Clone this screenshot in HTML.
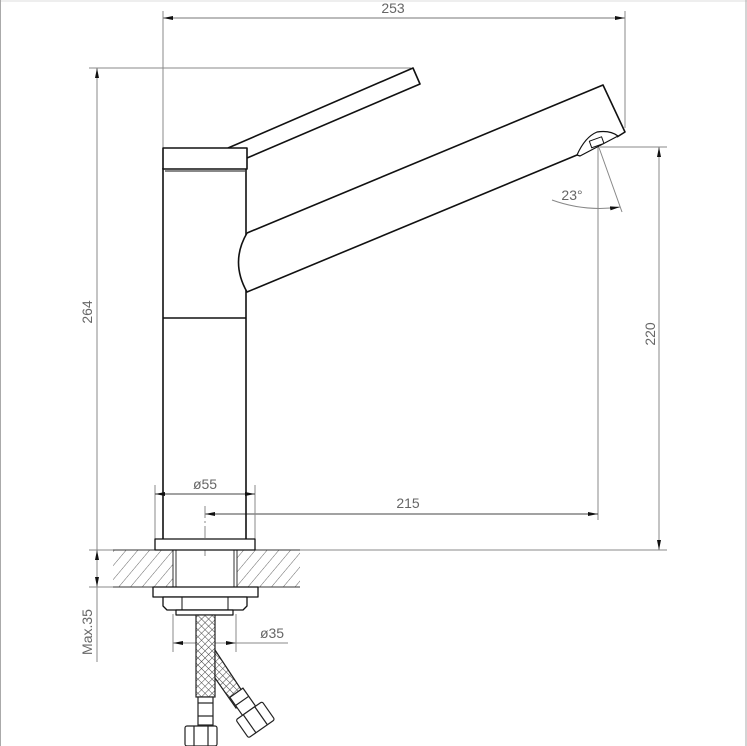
<!DOCTYPE html>
<html><head><meta charset="utf-8"><style>
html,body{margin:0;padding:0;background:#fff;}
svg{display:block;}
text{font-family:"Liberation Sans",sans-serif;fill:#666;}
</style></head><body>
<svg width="747" height="746" viewBox="0 0 747 746" xmlns="http://www.w3.org/2000/svg">
<defs>
<pattern id="h" width="9" height="9" patternUnits="userSpaceOnUse" patternTransform="rotate(40)">
<line x1="0" y1="0" x2="0" y2="9" stroke="#555" stroke-width="0.9"/>
</pattern>
<pattern id="m" width="5" height="5" patternUnits="userSpaceOnUse" patternTransform="rotate(45)">
<rect width="5" height="5" fill="#fff"/>
<path d="M0 0H5M0 0V5" stroke="#444" stroke-width="1"/>
</pattern>
<marker id="a" markerWidth="10" markerHeight="6" refX="10" refY="3" orient="auto-start-reverse" markerUnits="userSpaceOnUse">
<path d="M0 1 L10 3 L0 5z" fill="#111"/>
</marker>
</defs>
<rect x="0" y="0" width="747" height="2" fill="#eee"/>
<line x1="0.5" y1="0" x2="0.5" y2="746" stroke="#aaa"/>
<line x1="746" y1="0" x2="746" y2="746" stroke="#aaa"/>

<g stroke="#888" stroke-width="1" fill="none">
<line x1="163" y1="11" x2="163" y2="148"/>
<line x1="625" y1="11" x2="625" y2="128"/>
<line x1="163" y1="18" x2="625" y2="18" marker-start="url(#a)" marker-end="url(#a)" stroke="#777"/>
<line x1="89" y1="68" x2="411" y2="68"/>
<line x1="97" y1="68" x2="97" y2="550" marker-start="url(#a)"/>
<line x1="89" y1="550" x2="667" y2="550"/>
<line x1="600" y1="147" x2="667" y2="147"/>
<line x1="659" y1="147" x2="659" y2="550" marker-start="url(#a)" marker-end="url(#a)"/>
<line x1="598" y1="140" x2="598" y2="520"/>
<line x1="205" y1="514" x2="598" y2="514" marker-start="url(#a)" marker-end="url(#a)" stroke="#444"/>
<line x1="205" y1="506" x2="205" y2="556" stroke-dasharray="12 3 2 3"/>
<line x1="592" y1="128" x2="622" y2="212"/>
<path d="M552 200 Q585 212 620 207" marker-end="url(#a)"/>
<line x1="155" y1="485" x2="155" y2="540"/>
<line x1="255" y1="485" x2="255" y2="540"/>
<line x1="155" y1="494" x2="255" y2="494" marker-start="url(#a)" marker-end="url(#a)" stroke="#444"/>
<line x1="97" y1="550" x2="97" y2="587" marker-start="url(#a)" marker-end="url(#a)"/>
<line x1="89" y1="587" x2="113" y2="587"/>
<line x1="97" y1="587" x2="97" y2="662"/>
<line x1="173" y1="614" x2="173" y2="652"/>
<line x1="236" y1="614" x2="236" y2="652"/>
<line x1="173" y1="643" x2="236" y2="643" marker-start="url(#a)" marker-end="url(#a)"/>
<line x1="236" y1="643" x2="288" y2="643"/>
</g>

<rect x="113" y="550" width="60" height="37" fill="url(#h)"/>
<rect x="237" y="550" width="63" height="37" fill="url(#h)"/>
<g stroke="#333" fill="none" stroke-width="1">
<line x1="113" y1="550" x2="300" y2="550"/>
<line x1="113" y1="587" x2="300" y2="587"/>
<rect x="173" y="550" width="64" height="37"/>
<rect x="176" y="550" width="58" height="37"/>
</g>

<g stroke="#111" fill="#fff" stroke-width="1.6" stroke-linejoin="round">
<path d="M163 168 V539 M246 168 V539"/>
<line x1="163" y1="318" x2="246" y2="318"/>
<path d="M228 148 L413 68 L420 84 L247 158"/>
<rect x="163" y="148" width="84" height="21"/>
<line x1="165" y1="171" x2="245" y2="171" stroke-width="1"/>
<path d="M247 233 L603 85 L625 132 L617 137 M577 155 L247 292 Q230 262 247 233" fill="#fff"/>
<path d="M577 155 Q585 137 597 132 Q610 130 618 136 L580 156z" fill="#fff" stroke-width="1.2"/>
<rect x="590" y="139" width="13" height="7" transform="rotate(-20 596 142)" stroke-width="1"/>
<rect x="155" y="539" width="100" height="11" stroke-width="1.3"/>
<rect x="153" y="587" width="105" height="10" stroke-width="1.3"/>
<path d="M163 597 H247 V606 L243 610 H167 L163 606z" stroke-width="1.3"/>
<line x1="182" y1="597" x2="182" y2="610" stroke-width="1"/>
<line x1="228" y1="597" x2="228" y2="610" stroke-width="1"/>
<rect x="176" y="610" width="57" height="5" stroke-width="1.2"/>
</g>

<g stroke="#222" stroke-width="1.2">
<rect x="196" y="615" width="19" height="82" fill="url(#m)"/>
<path d="M215 650 L248 700 L236 708 L215 678z" fill="url(#m)"/>
<rect x="198" y="697" width="15" height="28" fill="#fff"/>
<line x1="198" y1="703" x2="213" y2="703"/>
<line x1="198" y1="716" x2="213" y2="716"/>
<rect x="185" y="726" width="32" height="20" rx="2" fill="#fff"/>
<line x1="194" y1="726" x2="194" y2="746"/>
<line x1="208" y1="726" x2="208" y2="746"/>
<g transform="rotate(-35 245 705)">
<rect x="237" y="690" width="16" height="22" fill="#fff"/>
<line x1="237" y1="700" x2="253" y2="700"/>
<rect x="229" y="712" width="32" height="22" rx="2" fill="#fff"/>
<line x1="238" y1="712" x2="238" y2="734"/>
<line x1="252" y1="712" x2="252" y2="734"/>
</g>
</g>

<text x="393" y="13" font-size="14" text-anchor="middle">253</text>
<text x="408" y="508" font-size="14" text-anchor="middle">215</text>
<text x="205" y="489" font-size="14" text-anchor="middle">ø55</text>
<text x="272" y="638" font-size="14" text-anchor="middle">ø35</text>
<text x="572" y="200" font-size="14" text-anchor="middle">23°</text>
<text transform="translate(92 312) rotate(-90)" font-size="14" text-anchor="middle">264</text>
<text transform="translate(655 334) rotate(-90)" font-size="14" text-anchor="middle">220</text>
<text transform="translate(92 632) rotate(-90)" font-size="14" text-anchor="middle">Max.35</text>
</svg>
</body></html>
